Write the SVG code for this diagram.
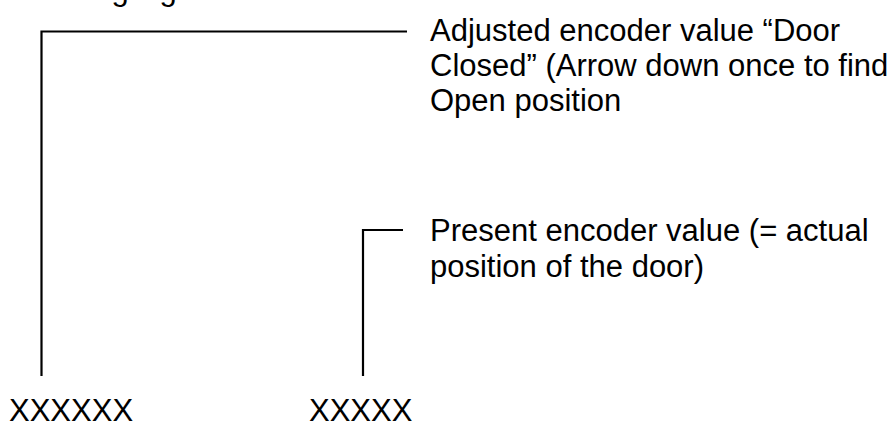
<svg xmlns="http://www.w3.org/2000/svg" width="894" height="423" viewBox="0 0 894 423">
<style>
text{font-family:"Liberation Sans",Arial,sans-serif;font-size:31px;fill:#000}
.ln{fill:none;stroke:#000;stroke-width:2.2}
</style>
<rect width="894" height="423" fill="#fff"/>
<text x="8" y="0">following significance:</text>
<g id="connectors">
<polyline class="ln" points="407,31.5 41.5,31.5 41.5,376"/>
<polyline class="ln" points="403,230 363,230 363,376"/>
</g>
<g id="label-adjusted">
<text x="430" y="41">Adjusted encoder value “Door</text>
<text x="430" y="76">Closed” (Arrow down once to find</text>
<text x="430" y="111">Open position</text>
</g>
<g id="label-present">
<text x="430" y="241">Present encoder value (= actual</text>
<text x="430" y="277">position of the door)</text>
</g>
<g id="value-adjusted"><text x="9" y="421">XXXXXX</text></g>
<g id="value-present"><text x="309" y="421">XXXXX</text></g>
</svg>
